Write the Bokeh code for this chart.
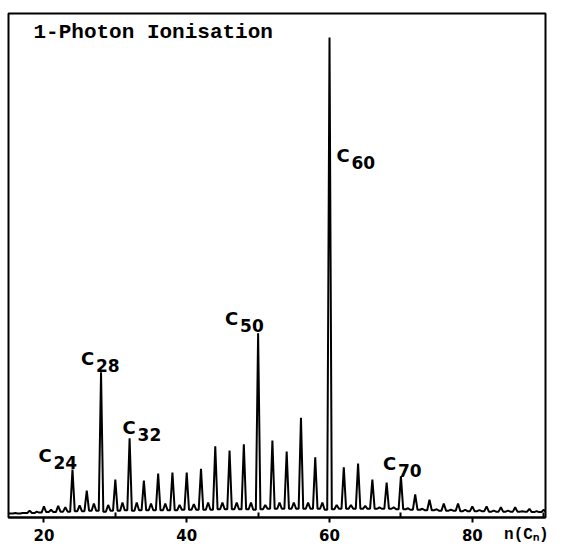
from bokeh.plotting import figure
from bokeh.models import Label, FixedTicker, Range1d
from bokeh.embed import file_html
from bokeh.resources import INLINE

# ---- data (cluster size n, ion intensity, C60 = 100) ----
n_values = list(range(15, 91))
intensity = [
    0.2, 0.3, 0.3, 0.8, 0.6, 1.7, 1.0, 1.8, 1.5,            # 15-23
    9.4, 1.9, 5.0, 2.3, 29.8, 2.0, 7.3, 2.5,                # 24-31
    16.0, 2.5, 7.1, 2.3, 8.6, 2.3, 8.8, 2.0,                # 32-39
    8.8, 2.2, 9.6, 2.5, 14.3, 2.5, 13.4, 2.5,               # 40-47
    14.7, 2.5, 38.0, 2.0, 15.5, 2.5, 13.2, 2.5,             # 48-55
    20.3, 2.5, 12.0, 2.5, 100.0, 2.0, 9.9, 2.0,             # 56-63
    10.7, 1.8, 7.3, 1.5, 6.7, 1.5, 8.0, 1.3,                # 64-71
    4.2, 1.2, 3.1, 1.1, 2.3, 1.0, 2.3, 1.0,                 # 72-79
    1.7, 0.9, 1.7, 0.8, 1.5, 0.8, 1.5, 0.7, 1.2, 0.7, 1.0,  # 80-90
]
# signal level in the gap between masses n and n+1 (n = 15 ... 89)
valley = [
    0.2,
    0.2, 0.3, 0.3, 0.4, 0.5, 0.5, 0.6, 0.6,
    0.7, 0.7, 0.8, 0.8, 0.6, 0.8, 0.8, 0.9,
    0.8, 0.9, 0.9, 0.9, 0.9, 0.9, 0.9, 1.0,
    1.0, 1.0, 1.0, 1.0, 1.1, 1.1, 1.1, 1.1,
    1.1, 1.0, 1.1, 1.2, 1.2, 1.2, 1.2, 1.2,
    1.2, 1.2, 1.2, 1.0, 1.1, 1.2, 1.2, 1.2,
    1.2, 1.2, 1.2, 1.2, 1.2, 1.1, 1.1, 1.0,
    1.0, 0.9, 0.9, 0.8, 0.8, 0.8, 0.7, 0.7,
    0.7, 0.7, 0.6, 0.6, 0.6, 0.6, 0.6, 0.6, 0.5, 0.5,
]

labeled_n = [24, 28, 32, 50, 60, 70]
title_text = "1-Photon Ionisation"
x_ticks = [20, 40, 60, 80]
x_minor_ticks = [30, 50, 70, 90]
x_axis_name = "n(C\u2099)"

# ---- styling / placement (pixels) ----
label_dx = [-34, -20, -7, -33, 7, -18]
label_dy = [14, 14, 11, 15, -118, 13]
SUB_DX, SUB_DY = 15, -7
FONT = "DejaVu Sans"
MONO = "Liberation Mono"
PAD = "\u00a0" * 4   # keeps the end-centred axis name inside the canvas

# build trace: narrow spike at each mass, joined through the gap levels
xs, ys = [], []
half = 0.32
for i, n in enumerate(n_values):
    left = valley[i - 1] if i > 0 else valley[0]
    right = valley[i] if i < len(valley) else valley[-1]
    xs += [n - half, n, n + half]
    ys += [left, intensity[i], right]

p = figure(width=553, height=546, output_backend="svg", toolbar_location=None,
           x_range=Range1d(15.04, 90.25), y_range=Range1d(-0.63, 105.03),
           y_axis_location=None, min_border_left=8, min_border_right=8,
           min_border_top=13, min_border_bottom=29)
p.background_fill_color = "white"
p.border_fill_color = "white"
p.grid.visible = False
p.outline_line_color = "black"
p.outline_line_width = 2

p.line(xs, ys, line_color="black", line_width=2)

ax = p.xaxis[0]
ax.ticker = FixedTicker(ticks=x_ticks, minor_ticks=x_minor_ticks)
ax.axis_line_color = "black"
ax.axis_line_width = 2
ax.major_tick_line_width = 2
ax.major_tick_out = 5
ax.major_tick_in = 0
ax.minor_tick_line_width = 2
ax.minor_tick_in = 5
ax.minor_tick_out = 0
ax.major_label_standoff = 6
ax.major_label_text_font = FONT
ax.major_label_text_font_style = "bold"
ax.major_label_text_font_size = "15px"
ax.major_label_text_color = "black"

# axis name, sitting on the tick-label row at the right end
ax.axis_label = x_axis_name + PAD
ax.axis_label_text_font = MONO
ax.axis_label_text_font_style = "bold"
ax.axis_label_text_font_size = "16px"
ax.axis_label_text_color = "black"
ax.axis_label_standoff = -18
ax.axis_label_align = "end"

# peak labels C_n
for k, n in enumerate(labeled_n):
    h = intensity[n_values.index(n)]
    p.add_layout(Label(x=n, y=h, x_offset=label_dx[k], y_offset=label_dy[k],
                       text="C", text_font=FONT, text_font_style="bold",
                       text_font_size="18px", text_color="black",
                       text_align="left", text_baseline="alphabetic"))
    p.add_layout(Label(x=n, y=h, x_offset=label_dx[k] + SUB_DX,
                       y_offset=label_dy[k] + SUB_DY,
                       text=str(n), text_font=FONT, text_font_style="bold",
                       text_font_size="17px", text_color="black",
                       text_align="left", text_baseline="alphabetic"))

# title inside the frame
p.add_layout(Label(x=18.54, y=100.0, y_offset=5, text=title_text, text_font=MONO,
                   text_font_style="bold", text_font_size="21px",
                   text_color="black", text_align="left",
                   text_baseline="alphabetic"))

open("out.html", "w").write(file_html(p, INLINE))
